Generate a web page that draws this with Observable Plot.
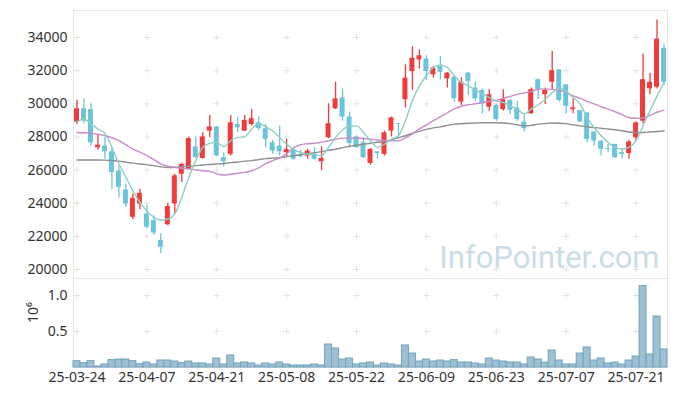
<!DOCTYPE html>
<html>
<head>
<meta charset="utf-8">
<script src="https://cdn.jsdelivr.net/npm/d3@7"></script>
<script src="https://cdn.jsdelivr.net/npm/@observablehq/plot@0.6"></script>
<style>
  html, body { margin: 0; padding: 0; background: #fff; }
  #chart { width: 677px; position: relative; }
  #chart svg { display: block; }
  #chart svg.vol { margin-top: -14px; position: relative; }
</style>
</head>
<body>
<div id="chart"></div>
<script>
const dates = [
"2025-03-24","2025-03-25","2025-03-26","2025-03-27","2025-03-28","2025-03-31",
"2025-04-01","2025-04-02","2025-04-03","2025-04-04",
"2025-04-07","2025-04-08","2025-04-09","2025-04-10","2025-04-11",
"2025-04-14","2025-04-15","2025-04-16","2025-04-17","2025-04-18",
"2025-04-21","2025-04-22","2025-04-23","2025-04-24","2025-04-25",
"2025-04-28","2025-04-29","2025-04-30",
"2025-05-02","2025-05-07","2025-05-08","2025-05-09",
"2025-05-12","2025-05-13","2025-05-14","2025-05-15","2025-05-16",
"2025-05-19","2025-05-20","2025-05-21","2025-05-22","2025-05-23",
"2025-05-26","2025-05-27","2025-05-28","2025-05-29","2025-05-30",
"2025-06-02","2025-06-04","2025-06-05",
"2025-06-09","2025-06-10","2025-06-11","2025-06-12","2025-06-13",
"2025-06-16","2025-06-17","2025-06-18","2025-06-19","2025-06-20",
"2025-06-23","2025-06-24","2025-06-25","2025-06-26","2025-06-27",
"2025-06-30","2025-07-01","2025-07-02","2025-07-03","2025-07-04",
"2025-07-07","2025-07-08","2025-07-09","2025-07-10","2025-07-11",
"2025-07-14","2025-07-15","2025-07-16","2025-07-17","2025-07-18",
"2025-07-21","2025-07-22","2025-07-23","2025-07-24","2025-07-25"
];

const opens = [28900,29700,29650,27350,27450,27100,25950,24800,23150,23950,
23350,22950,21750,22700,23950,25750,26050,27400,26700,28350,
28600,26750,26950,28750,28350,28750,28850,28500,27650,27450,
27050,27250,26950,26850,26950,26500,27950,29700,30350,29200,
28000,27650,26400,27100,26950,28350,28800,30250,31950,32650,
32700,31750,32250,31500,31600,30100,31850,30950,30800,29800,
29900,29650,30200,29750,28900,29400,31450,30550,31300,32050,
31150,29650,29600,29450,28300,27750,27300,27550,27050,27000,
27950,28950,30900,31000,33350];

const highs = [30200,30300,30000,28150,27950,27250,26250,25150,24550,24850,
23850,23250,22150,24000,25750,26400,28000,28000,28250,29300,
28650,27050,29300,29200,29300,29650,29200,28750,27800,28650,
27850,27350,27200,27250,27350,27400,30000,31300,30900,29500,
28050,27950,27300,27100,28350,29200,28800,32350,33450,33250,
32900,32250,32850,31900,31700,31550,31900,31300,30900,30850,
29950,30850,30250,30150,29300,30950,31500,30950,33150,32050,
31150,30300,29600,29450,28300,27750,27550,27550,27250,27800,
28900,33000,31850,35050,33600];

const lows = [28750,28800,27450,27200,26650,24850,24300,23750,23000,23600,
22450,22050,20950,22650,23350,25250,26000,26700,26650,27950,
26800,26200,26850,28250,28350,28650,28400,27350,26950,26850,
26800,26600,26750,26650,26600,25950,27900,29650,28950,27350,
27300,26700,26300,26650,26850,28000,27950,29750,30800,32100,
31400,31550,31450,30950,30100,29900,30500,30150,29400,29550,
28950,29550,29350,28950,28300,29350,30250,29950,30800,30100,
29400,29400,28850,27650,27450,26850,27050,26700,26650,26650,
27750,28800,30550,30900,31100];

const closes = [29700,28950,27650,27500,27100,25850,24950,23950,24300,24600,
22550,22200,21350,23800,25650,26350,27900,26750,28000,28600,
26850,26500,28850,28550,29000,29100,28500,27850,27150,27100,
27250,26650,26800,27150,26650,26700,28800,30300,29200,27600,
27350,26750,27250,27000,28250,29150,28750,31550,32750,32900,
31950,32150,31900,31850,30300,31300,31350,30300,30000,30550,
29050,30250,29600,29050,28500,30850,30850,30800,32000,30200,
29850,29750,28900,27850,27750,27250,27250,26750,26950,27700,
28850,31450,31300,33900,31300];

const volumes = [88000,60000,88000,14000,42000,102000,111000,111000,88000,46000,
69000,42000,97000,97000,83000,60000,83000,56000,56000,42000,
125000,42000,167000,56000,69000,56000,28000,56000,42000,69000,
42000,28000,28000,28000,42000,28000,319000,264000,111000,125000,
42000,56000,69000,28000,56000,42000,28000,306000,194000,83000,
111000,83000,97000,83000,102000,69000,69000,56000,42000,125000,
97000,83000,69000,69000,42000,139000,111000,69000,236000,97000,
42000,42000,194000,278000,97000,125000,56000,69000,42000,97000,
153000,1130000,181000,708000,250000];

const ma5 = [28930,29080,28780,28480,28210,27370,26370,25560,24760,24050,
23550,23150,22990,23050,23360,24360,25560,26570,27370,27610,
27670,27410,27770,27970,28010,28480,28810,28610,28370,27970,
27570,27230,27070,26970,26930,26870,27370,27970,28420,28660,
28670,28270,27770,27370,27570,27870,28070,28980,30180,31080,
31690,32190,32350,32190,31690,31280,31080,30830,30620,30380,
30180,30080,29880,29680,29380,29680,29940,30280,30680,30950,
30740,30380,29980,29170,28570,28070,27670,27370,27270,27370,
27770,28670,29580,30480,31280];

const ma20 = [28270,28250,28210,28160,28070,27950,27770,27530,27270,27080,
26870,26630,26370,26230,26160,26110,26070,26020,25960,25920,
25770,25700,25750,25810,25860,25960,26130,26390,26570,26720,
26990,27350,27530,27590,27620,27670,27770,27860,27930,27930,
27920,27910,27860,27800,27770,27770,27770,27950,28190,28490,
28730,28980,29220,29460,29700,29850,29940,30000,30060,30150,
30210,30330,30450,30570,30660,30750,30870,30900,30870,30810,
30690,30480,30330,30150,30000,29820,29680,29520,29340,29160,
29130,29140,29310,29490,29620];

const ma60 = [26610,26610,26610,26610,26600,26570,26540,26480,26420,26370,
26330,26270,26200,26160,26170,26200,26230,26270,26310,26340,
26370,26400,26450,26490,26540,26570,26630,26690,26720,26750,
26810,26870,26930,26990,27050,27110,27200,27260,27350,27440,
27500,27560,27620,27680,27730,27830,27950,28070,28220,28340,
28460,28550,28610,28700,28770,28800,28830,28840,28860,28860,
28860,28840,28800,28730,28670,28700,28770,28810,28840,28830,
28800,28730,28670,28610,28570,28520,28480,28430,28370,28300,
28270,28270,28300,28330,28370];

const yTicks = [20000,22000,24000,26000,28000,30000,32000,34000];
const volTicks = [0.5, 1.0];
const xTickDates = ["2025-03-24","2025-04-07","2025-04-21","2025-05-08","2025-05-22","2025-06-09","2025-06-23","2025-07-07","2025-07-21"];

const rows = dates.map((d, i) => ({
  date: d, open: opens[i], high: highs[i], low: lows[i], close: closes[i],
  vol: volumes[i], ma5: ma5[i], ma20: ma20[i], ma60: ma60[i]
}));

const UP = "#ef3b3b", DOWN = "#6cc4dc";
const FONT = "'Noto Sans', 'DejaVu Sans', sans-serif";
const crossMain = xTickDates.flatMap(d => yTicks.map(v => ({date: d, v})));
const crossVol = xTickDates.flatMap(d => volTicks.map(v => ({date: d, v})));

const xScale = {type: "band", domain: dates, padding: 0, round: false};

// main panel: frame spans y 10..278; 14px extra room below so nothing is clipped
const main = Plot.plot({
  width: 677, height: 292,
  marginLeft: 73, marginRight: 10, marginTop: 10, marginBottom: 14,
  x: {...xScale, axis: null},
  y: {domain: [19457, 35630], axis: null},
  style: {fontFamily: FONT, color: "#333", background: "#fff"},
  marks: [
    Plot.frame({stroke: "#e6e6e6"}),
    Plot.text(["InfoPointer.com"], {frameAnchor: "bottom-right", textAnchor: "end", lineAnchor: "bottom", dx: -8, dy: -11, fontSize: 31, fontFamily: "Roboto, 'Noto Sans', sans-serif", fill: "#cadde7"}),
    Plot.dot(crossMain, {x: "date", y: "v", symbol: "plus", r: 2.2, stroke: "#e3e3e3", strokeWidth: 1}),
    Plot.ruleX(rows, {x: "date", y1: "low", y2: "high", stroke: d => d.close >= d.open ? UP : DOWN, strokeWidth: 1.3}),
    Plot.barY(rows, {x: "date", y1: "open", y2: "close", fill: d => d.close >= d.open ? UP : DOWN, insetLeft: 1, insetRight: 1}),
    Plot.line(rows, {x: "date", y: "ma60", stroke: "#8f8f8f", strokeWidth: 1.4, curve: "monotone-x"}),
    Plot.line(rows, {x: "date", y: "ma20", stroke: "#c98cc6", strokeWidth: 1.4, curve: "monotone-x"}),
    Plot.line(rows, {x: "date", y: "ma5", stroke: "#8dcfc5", strokeWidth: 1.4, curve: "monotone-x"}),
    Plot.axisY(yTicks, {tickSize: 0, tickPadding: 6, tickFormat: d => String(d), fontSize: 14, label: null})
  ]
});

const vol = Plot.plot({
  width: 677, height: 118,
  marginLeft: 73, marginRight: 10, marginTop: 0, marginBottom: 29,
  x: {...xScale, axis: null},
  y: {domain: [0, 1.236], axis: null},
  style: {fontFamily: FONT, color: "#333", background: "transparent"},
  marks: [
    Plot.frame({stroke: "#e6e6e6"}),
    Plot.dot(crossVol, {x: "date", y: "v", symbol: "plus", r: 2.2, stroke: "#e3e3e3", strokeWidth: 1}),
    Plot.barY(rows, {x: "date", y: d => d.vol / 1e6, fill: "#9dc1d3", stroke: "#74a3bd", strokeWidth: 1}),
    Plot.axisY(volTicks, {tickSize: 0, tickPadding: 6, tickFormat: d3.format(".1f"), fontSize: 14, label: null}),
    Plot.axisX(xTickDates, {tickSize: 0, tickPadding: 5, tickFormat: d => d.slice(2), fontSize: 14, label: null}),
    Plot.text(["10⁶"], {frameAnchor: "left", dx: -40, rotate: -90, fontSize: 14, fill: "#333"})
  ]
});
vol.classList.add("vol");

document.getElementById("chart").append(main, vol);
</script>
</body>
</html>
